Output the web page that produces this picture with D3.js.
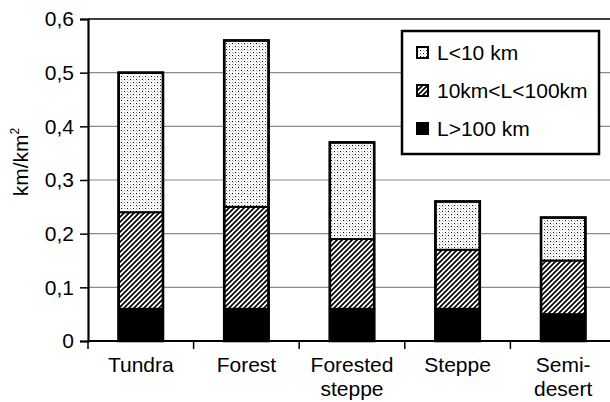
<!DOCTYPE html>
<html>
<head>
<meta charset="utf-8">
<script src="https://cdn.jsdelivr.net/npm/d3@7"></script>
<style>
  body { margin: 0; background: #fff; }
  text { font-family: "Liberation Sans", Arial, sans-serif; fill: #000; }
</style>
</head>
<body>
<div id="chart"></div>
<script>
// data (km/km2), stacked from the bottom
var categories = ["Tundra", "Forest", "Forested steppe", "Steppe", "Semi-desert"];
var catLines = [["Tundra"], ["Forest"], ["Forested", "steppe"], ["Steppe"], ["Semi-", "desert"]];
var longRivers = [0.06, 0.06, 0.06, 0.06, 0.05];   // L>100 km
var midRivers  = [0.18, 0.19, 0.13, 0.11, 0.10];   // 10km<L<100km
var smallRivers = [0.26, 0.31, 0.18, 0.09, 0.08];  // L<10 km
var yTicks = [0, 0.1, 0.2, 0.3, 0.4, 0.5, 0.6];
var seriesNames = ["L<10 km", "10km<L<100km", "L>100 km"];

var W = 610, H = 402;
var margin = {left: 88, top: 19, right: -6, bottom: 61};
var width = W - margin.left - margin.right,
    height = H - margin.top - margin.bottom;
var fontSize = "21px";

var svg = d3.select("#chart")
  .append("svg")
    .attr("width", W)
    .attr("height", H)
  .append("g")
    .attr("transform", "translate(" + margin.left + "," + margin.top + ")");

// patterns
var defs = svg.append("defs");
var dots = defs.append("pattern")
  .attr("id", "dots").attr("patternUnits", "userSpaceOnUse")
  .attr("width", 6).attr("height", 6);
dots.append("rect").attr("width", 6).attr("height", 6).attr("fill", "#fff");
[[0, 0, "#000"], [3, 3, "#000"], [3, 0, "#999"], [0, 3, "#999"],
 [1, 1, "#ddd"], [4, 4, "#ddd"], [4, 1, "#ccc"], [1, 4, "#ccc"]].forEach(function(p) {
  dots.append("rect").attr("x", p[0]).attr("y", p[1])
    .attr("width", 1).attr("height", 1).attr("fill", p[2]);
});

var hatch = defs.append("pattern")
  .attr("id", "hatch").attr("patternUnits", "userSpaceOnUse")
  .attr("width", 5).attr("height", 5);
hatch.append("rect").attr("width", 5).attr("height", 5).attr("fill", "#fff");
hatch.append("path")
  .attr("d", "M-1,1 l2,-2 M0,5 l5,-5 M4,6 l2,-2")
  .attr("stroke", "#000").attr("stroke-width", 1.7);

var fills = ["#000", "url(#hatch)", "url(#dots)"];

///////////////////////////////////////// scales
var x = d3.scaleBand()
  .domain(categories)
  .range([0, width])
  .padding(0);

var y = d3.scaleLinear()
  .domain([0, 0.6])
  .range([height, 0]);

// gridlines
svg.append("g")
  .selectAll("line")
  .data(yTicks.slice(1, -1))
  .enter().append("line")
    .attr("x1", 0).attr("x2", width)
    .attr("y1", function(d) { return y(d); })
    .attr("y2", function(d) { return y(d); })
    .attr("stroke", "#8a8a8a")
    .attr("stroke-width", 1.2);

// top border of plot area
svg.append("line")
  .attr("x1", 0).attr("x2", width)
  .attr("y1", y(0.6)).attr("y2", y(0.6))
  .attr("stroke", "#000").attr("stroke-width", 1.5);

///////////////////////////////////////// bars
var stacked = categories.map(function(c, i) {
  var vals = [longRivers[i], midRivers[i], smallRivers[i]];
  var base = 0;
  return vals.map(function(v, k) {
    var seg = {cat: c, y0: base, y1: base + v, k: k};
    base += v;
    return seg;
  });
});

var barW = x.bandwidth() * 0.42;

var groups = svg.append("g").selectAll("g")
  .data(stacked)
  .enter().append("g");

groups.selectAll("rect")
  .data(function(d) { return d; })
  .enter().append("rect")
    .attr("x", function(d) { return x(d.cat) + (x.bandwidth() - barW) / 2; })
    .attr("width", barW)
    .attr("y", function(d) { return y(d.y1); })
    .attr("height", function(d) { return y(d.y0) - y(d.y1); })
    .attr("fill", function(d) { return fills[d.k]; })
    .attr("stroke", "#000")
    .attr("stroke-width", 2);

// outline of the whole bar
groups.append("rect")
  .attr("x", function(d) { return x(d[0].cat) + (x.bandwidth() - barW) / 2; })
  .attr("width", barW)
  .attr("y", function(d) { return y(d[2].y1); })
  .attr("height", function(d) { return y(0) - y(d[2].y1); })
  .attr("fill", "none")
  .attr("stroke", "#000")
  .attr("stroke-width", 2.6);

///////////////////////////////////////// Y axis
var yAxis = svg.append("g")
  .call(d3.axisLeft(y)
    .tickValues(yTicks)
    .tickSize(8)
    .tickPadding(6)
    .tickFormat(function(d) { return d === 0 ? "0" : d3.format(".1f")(d).replace(".", ","); }));
yAxis.select(".domain").attr("stroke-width", 2.2);
yAxis.selectAll(".tick line").attr("stroke-width", 1.5);
yAxis.selectAll("text")
  .style("font-size", fontSize)
  .style("font-family", "'Liberation Sans', Arial, sans-serif");

// text label for the y axis
var yTitle = svg.append("text")
  .attr("transform", "translate(" + (-60) + "," + (height / 2 - 18) + ") rotate(-90)")
  .style("text-anchor", "middle")
  .style("font-size", fontSize);
yTitle.append("tspan").text("km/km");
yTitle.append("tspan").attr("dy", -9).style("font-size", "12px").text("2");

///////////////////////////////////////// X axis
var xAxis = svg.append("g")
  .attr("transform", "translate(0," + height + ")");
xAxis.append("line")
  .attr("x1", 0).attr("x2", width)
  .attr("stroke", "#000").attr("stroke-width", 2.2);
xAxis.selectAll(".xt")
  .data(categories)
  .enter().append("line")
    .attr("class", "xt")
    .attr("x1", function(d) { return x(d); })
    .attr("x2", function(d) { return x(d); })
    .attr("y1", 0).attr("y2", 8)
    .attr("stroke", "#000").attr("stroke-width", 1.5);

xAxis.selectAll(".xl")
  .data(categories)
  .enter().append("text")
    .attr("class", "xl")
    .attr("x", function(d) { return x(d) + x.bandwidth() / 2; })
    .attr("y", 31)
    .style("text-anchor", "middle")
    .style("font-size", fontSize)
    .each(function(d, i) {
      var t = d3.select(this);
      catLines[i].forEach(function(line, j) {
        t.append("tspan")
          .attr("x", x(d) + x.bandwidth() / 2)
          .attr("dy", j === 0 ? 0 : 24)
          .text(line);
      });
    });

///////////////////////////////////////// legend
var legend = svg.append("g")
  .attr("transform", "translate(" + (402 - margin.left) + "," + (31 - margin.top) + ")");
legend.append("rect")
  .attr("width", 197).attr("height", 123)
  .attr("fill", "#fff")
  .attr("stroke", "#000").attr("stroke-width", 2.5);

var swFills = ["url(#dots)", "url(#hatch)", "#000"];
var items = legend.selectAll(".item")
  .data(seriesNames)
  .enter().append("g")
    .attr("transform", function(d, i) { return "translate(15," + (22 + i * 38) + ")"; });
items.append("rect")
  .attr("x", 0).attr("y", -6)
  .attr("width", 11).attr("height", 11)
  .attr("fill", function(d, i) { return swFills[i]; })
  .attr("stroke", "#000").attr("stroke-width", 2);
items.append("text")
  .attr("x", 20)
  .attr("dy", "0.35em")
  .style("font-size", fontSize)
  .text(function(d) { return d; });
</script>
</body>
</html>
